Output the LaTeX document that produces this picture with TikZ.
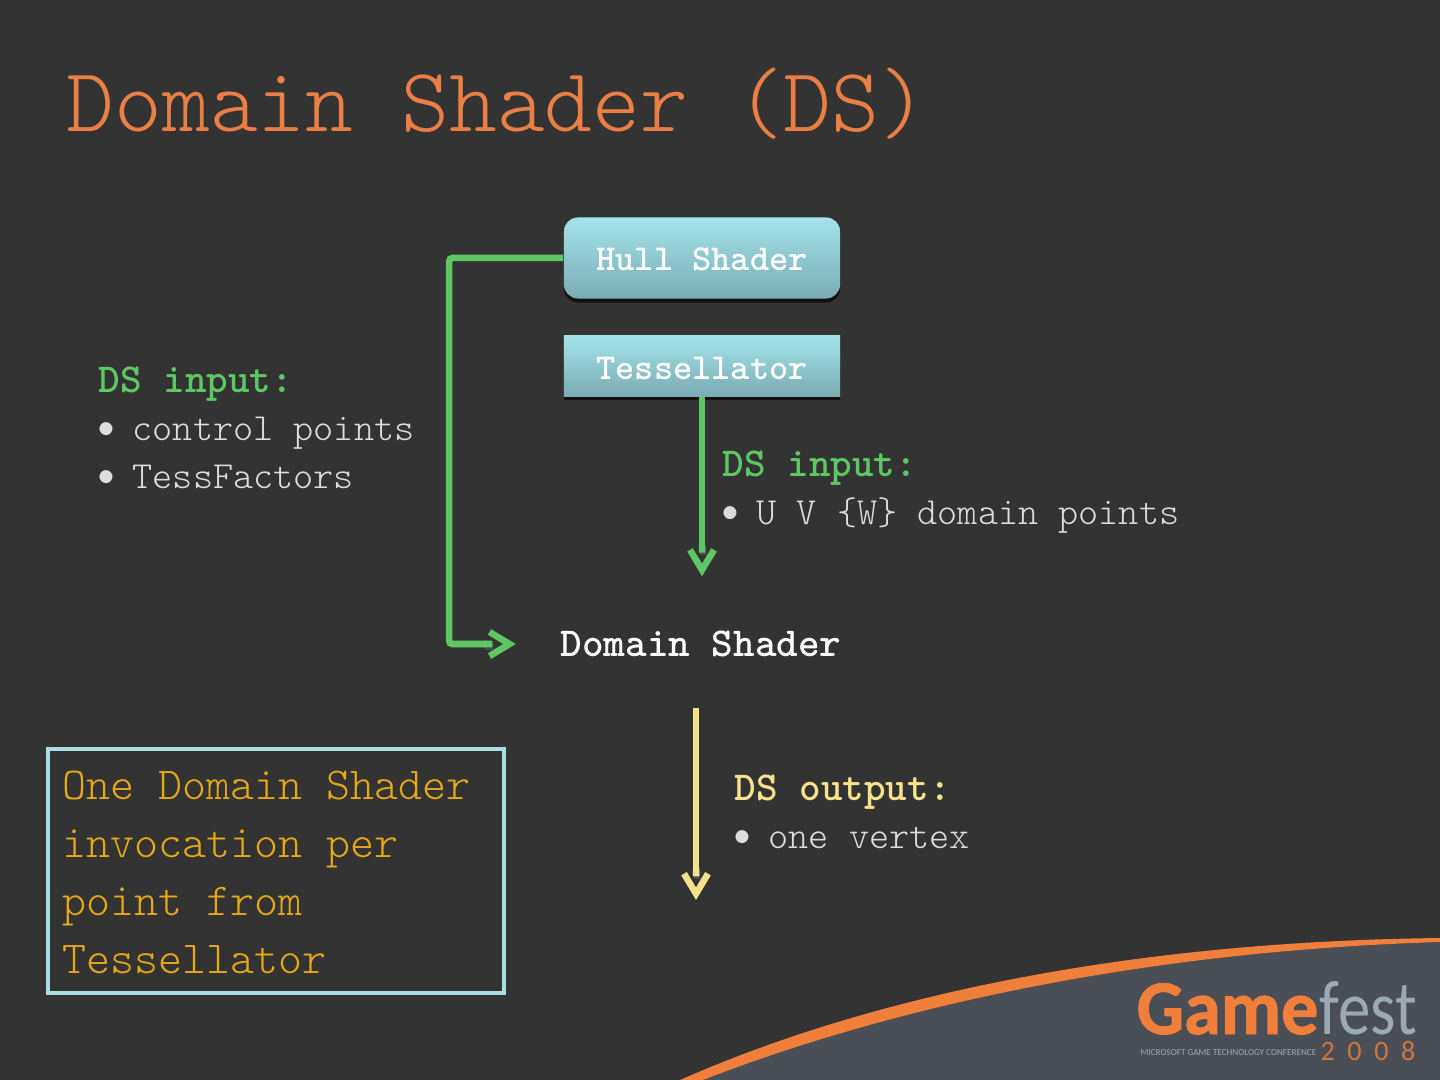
\documentclass[tikz,border=0pt]{standalone}
\usepackage{fontspec}
\newfontfamily\logofont[BoldFeatures={FakeBold=1.2}]{Carlito}
\usepackage{tikz}
\usetikzlibrary{arrows.meta, shadows}
\definecolor{slidebg}{HTML}{333333}
\definecolor{swoopgray}{HTML}{4A4F57}
\definecolor{swooporange}{HTML}{EF7F3A}
\definecolor{titleorange}{HTML}{E97F45}
\definecolor{dsgreen}{HTML}{5CC763}
\definecolor{dsyellow}{HTML}{F6E28C}
\definecolor{notegold}{HTML}{E6A817}
\definecolor{noteframe}{HTML}{A9DEE2}
\definecolor{bodygray}{HTML}{DCDCDC}
\definecolor{festgray}{HTML}{9AA9B3}
\definecolor{boxcyan}{HTML}{A4E4E9}
\definecolor{boxcyandark}{HTML}{7AABB3}
\newcommand{\dsitem}[1]{\makebox[0.34cm][l]{\hspace{-0.05cm}\fontsize{14}{13.64}\selectfont\textbullet}#1}
\newcommand{\dshead}[2]{\textcolor{#1}{\fontseries{bx}\fontsize{11.7}{13.64}\selectfont #2}}

\begin{document}
\begin{tikzpicture}[
  x=0.01cm, y=-0.01cm,
  stagebox/.style={draw=none, top color=boxcyan, bottom color=boxcyandark, minimum width=2.76cm, text=white, font=\ttfamily\bfseries\fontsize{10.4}{12}\selectfont, drop shadow={shadow xshift=0cm, shadow yshift=-0.04cm, fill=black, opacity=0.65}},
  dslabel/.style={anchor=west, align=left, inner sep=0pt, text=bodygray, font=\ttfamily\fontseries{l}\fontsize{10.9}{13.64}\selectfont},
  dsarr/.style={line width=0.065cm, draw=#1, -{Butt Cap[sep=-0.06cm] . Straight Barb[length=0.2cm, width=0.24cm]}, preaction={draw=black!70, transform canvas={xshift=0.01cm, yshift=-0.025cm}}},
]

\fill[slidebg] (0,0) rectangle (1440,1080);
\useasboundingbox (0,0) rectangle (1440,1080);

\fill[swoopgray] (703,1080) .. controls (870,1015) and (1120,952) .. (1440,942) -- (1440,1080) -- cycle;
\fill[swooporange] (680,1080) .. controls (850,1005) and (1100,942) .. (1440,938) -- (1440,942) .. controls (1120,952) and (870,1015) .. (703,1080) -- cycle;

\node[anchor=base west, inner sep=0pt, text=titleorange, font=\ttfamily\fontseries{l}\fontsize{25.9}{30}\selectfont] (title) at (66,132) {Domain Shader (DS)};

\node[stagebox, rounded corners=0.14cm, minimum height=0.81cm] (hull) at (702,258) {\raisebox{-0.125cm}[0pt][0pt]{Hull Shader}};
\node[stagebox, minimum height=0.6cm] (tess) at (702,366) {\raisebox{-0.135cm}[0pt][0pt]{Tessellator}};
\node[inner sep=0pt, text=white, font=\ttfamily\bfseries\fontsize{11.7}{14}\selectfont] (ds) at (701,644) {Domain Shader};
\coordinate (vout) at (696,900);

\draw[dsarr=dsgreen, rounded corners=0.03cm, shorten >=0.44cm] (hull.west) -- ++(-114,0) |- (ds.west);
\draw[dsarr=dsgreen, shorten >=0.54cm] (tess.south) -- (tess.south |- ds.north);
\draw[dsarr=dsyellow, shorten <=0.5cm] (ds.south -| vout) -- (vout);

\node[dslabel] (inleft) at (98,428) {\dshead{dsgreen}{DS input:}\\\dsitem{control points}\\\dsitem{TessFactors}};
\node[dslabel] (inright) at (722,492) {\dshead{dsgreen}{DS input:}\\\dsitem{U V \{W\} domain points}};
\node[dslabel] (outright) at (734,812) {\dshead{dsyellow}{DS output:}\\\dsitem{one vertex}};

\node[draw=noteframe, line width=0.04cm, minimum width=4.56cm, minimum height=2.44cm, anchor=north west, inner sep=0pt] (noteframe) at (46,747) {};
\node[anchor=west, align=left, inner sep=0pt, text=notegold, font=\ttfamily\fontseries{l}\fontsize{13}{16.5}\selectfont] (note) at (62,872) {One Domain Shader\\invocation per\\point from\\Tessellator};

\node[anchor=base west, inner sep=0pt, text depth=0pt, text=swooporange, font=\logofont\bfseries\fontsize{22}{24}\selectfont] (game) at (1136,1034) {\scalebox{0.96}[1]{Game}};
\node[anchor=base west, inner sep=0pt, text depth=0pt, text=festgray, font=\logofont\fontsize{22}{24}\selectfont] (fest) at (game.base east) {\scalebox{0.84}[1]{fest}};
\node[anchor=base west, inner sep=0pt, text=festgray, font=\logofont\fontsize{2.6}{4}\selectfont] (conf) at (1140,1055) {MICROSOFT GAME TECHNOLOGY CONFERENCE};
\node[anchor=base west, inner sep=0pt, text=swooporange!80!swoopgray, font=\logofont\fontsize{8}{9}\selectfont] (year) at (1320,1060) {2\hspace{0.125cm}0\hspace{0.125cm}0\hspace{0.125cm}8};

\end{tikzpicture}
\end{document}
